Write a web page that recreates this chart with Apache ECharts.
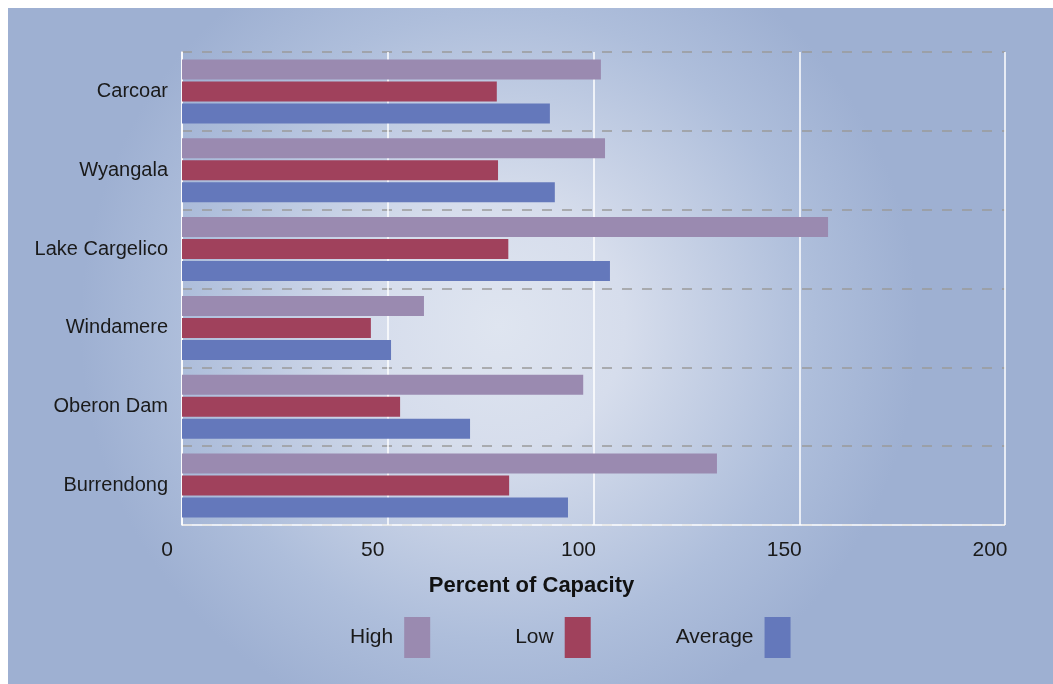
<!DOCTYPE html>
<html>
<head>
<meta charset="utf-8">
<script src="https://cdn.jsdelivr.net/npm/echarts@6/dist/echarts.min.js"></script>
<style>
  html, body { margin: 0; padding: 0; background: #ffffff; }
  #chart { position: absolute; left: 8px; top: 8px; width: 1045px; height: 676px; }
</style>
</head>
<body>
<div id="chart"></div>
<script>
const categories = ['Carcoar', 'Wyangala', 'Lake Cargelico', 'Windamere', 'Oberon Dam', 'Burrendong'];
const highValues = [101.8, 102.8, 157, 58.8, 97.5, 130];
const lowValues = [76.5, 76.8, 79.3, 45.9, 53, 79.5];
const averageValues = [89.4, 90.6, 104, 50.8, 70, 93.8];
const xTicks = [0, 50, 100, 150, 200];

const FONT = '"Liberation Sans", Arial, sans-serif';
const chart = echarts.init(document.getElementById('chart'));

chart.setOption({
  animation: false,
  backgroundColor: {
    type: 'radial', x: 0.47, y: 0.47, r: 0.62,
    colorStops: [
      { offset: 0, color: '#dfe5f0' },
      { offset: 0.3, color: '#d6ddec' },
      { offset: 0.75, color: '#aebedb' },
      { offset: 1, color: '#9eb0d2' }
    ]
  },
  grid: { left: 174, right: 48, top: 44, bottom: 159, containLabel: false },
  legend: {
    data: ['High', 'Low', 'Average'],
    left: 342, top: 609, padding: 0,
    align: 'right',
    itemWidth: 26, itemHeight: 41,
    itemGap: 85,
    icon: 'rect',
    textStyle: { fontFamily: FONT, fontSize: 21, color: '#1a1a1a', padding: [0, 6, 0, 0] }
  },
  xAxis: {
    type: 'value', min: 0, max: 200, interval: 50,
    name: 'Percent of Capacity', nameLocation: 'middle', nameGap: 50,
    nameTextStyle: { fontFamily: FONT, fontSize: 22, fontWeight: 'bold', color: '#111', padding: [0, 124, 0, 0] },
    axisLine: { show: false },
    axisTick: { show: false },
    axisLabel: {
      fontFamily: FONT, fontSize: 21, color: '#1a1a1a', margin: 15,
      padding: [0, 30, 0, 0],
      formatter: v => xTicks.includes(v) ? String(v) : ''
    },
    splitLine: { show: true, lineStyle: { color: '#ffffff', width: 1.5 } }
  },
  yAxis: {
    type: 'category', data: categories, inverse: true,
    axisLine: { show: true, lineStyle: { color: '#ffffff', width: 1.5 } },
    axisTick: { show: false },
    axisLabel: { fontFamily: FONT, fontSize: 20, color: '#1a1a1a', margin: 14 },
    splitLine: { show: true, lineStyle: { color: '#9a9a9a', width: 1.5, type: [10, 10] } }
  },
  series: [
    { name: 'High', type: 'bar', data: highValues, barWidth: 20, barGap: '10%', itemStyle: { color: '#9a8ab0' } },
    { name: 'Low', type: 'bar', data: lowValues, barWidth: 20, barGap: '10%', itemStyle: { color: '#a0415c' } },
    { name: 'Average', type: 'bar', data: averageValues, barWidth: 20, barGap: '10%', itemStyle: { color: '#6478bb' } }
  ],
  graphic: [
    { type: 'line', z: 100, shape: { x1: 174, y1: 517, x2: 997, y2: 517 }, style: { stroke: '#ffffff', lineWidth: 1.5 }, silent: true }
  ]
});
</script>
</body>
</html>
